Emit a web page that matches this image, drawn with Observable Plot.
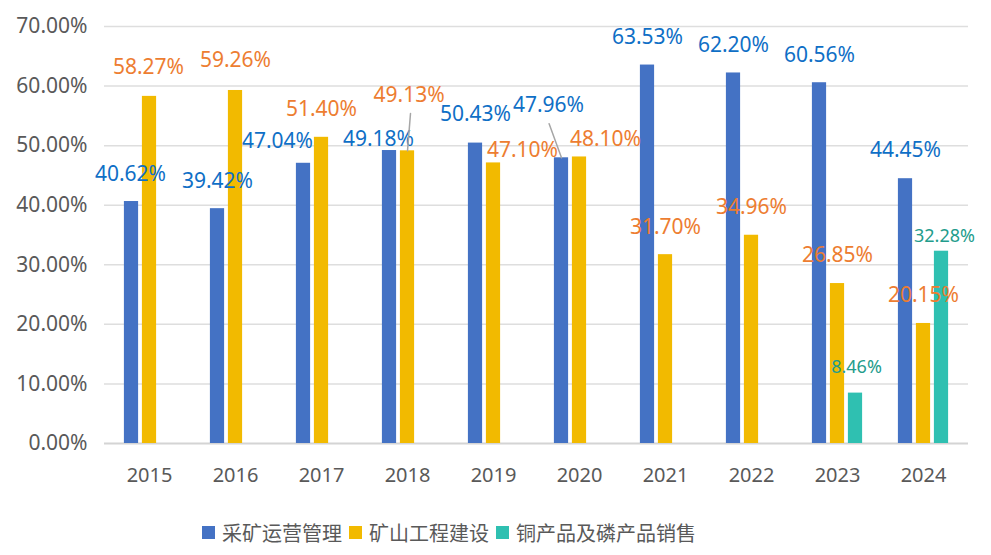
<!DOCTYPE html>
<html><head><meta charset="utf-8">
<script src="https://cdn.jsdelivr.net/npm/d3@7"></script>
<script src="https://cdn.jsdelivr.net/npm/@observablehq/plot@0.6"></script>
<style>
body{margin:0;background:#fff;}
#wrap{position:relative;width:991px;height:555px;overflow:hidden;}
#legend{position:absolute;left:202px;top:518px;display:flex;align-items:center;font-family:"Noto Sans CJK SC",sans-serif;font-size:20px;color:#595959;white-space:nowrap;}
.item{display:flex;align-items:center;margin-right:7px}
.sw{width:13px;height:13px;margin-right:7px}
</style></head><body><div id="wrap"><div id="chart"></div><div id="legend"></div></div>
<script>
const years = ["2015","2016","2017","2018","2019","2020","2021","2022","2023","2024"];
const seriesNames = ["采矿运营管理","矿山工程建设","铜产品及磷产品销售"];
const mining = [40.62,39.42,47.04,49.18,50.43,47.96,63.53,62.20,60.56,44.45];
const construction = [58.27,59.26,51.40,49.13,47.10,48.10,31.70,34.96,26.85,20.15];
const sales = [null,null,null,null,null,null,null,null,8.46,32.28];
const yTicks = [0,10,20,30,40,50,60,70];

// styling / layout (not data)
const barColors = ["#4472C4","#F2BA00","#2FC0B1"];
const labelColors = ["#0F6FC6","#ED7D31","#239C8C"];
const labelSizes = [21,21,18];
const seriesOffset = [-18,0,18];
// per-label nudge: [dx, pixels of baseline above bar top]
const nudges = [
  [[-1,21],[0,21],[-26,15],[-11,5],[0,22],[-13,45.5],[0,21],[0,21],[0,21],[0,22]],
  [[-1,22],[0,23],[0,21.5],[1.6,48.5],[29,5.6],[26,11],[0,21],[0,21],[0,21.4],[0,21.4]],
  [null,null,null,null,null,null,null,null,[1,20],[3,9]]
];
// leader lines: series index, year, length, rotate
const leaders = [
  {s:1, year:"2018", length:37.4, rotate:4.6},
  {s:0, year:"2020", length:36.2, rotate:-20}
];

const seriesValues = [mining, construction, sales];
const rows = [];
seriesValues.forEach((vals, s) => vals.forEach((v, i) => {
  if (v != null) rows.push({year: years[i], value: v, s, i});
}));

const marks = [];
marks.push(Plot.ruleY(yTicks.filter(t => t > 0), {stroke:"#dedede", strokeWidth:1.5}));
marks.push(Plot.ruleY([0], {stroke:"#d4d4d4", strokeWidth:2}));
for (let s = 0; s < 3; s++) {
  marks.push(Plot.barY(rows.filter(r => r.s === s), {
    x:"year", y:"value", fill: barColors[s], dx: seriesOffset[s],
    insetLeft: 35.9, insetRight: 35.9
  }));
}
for (const r of rows) {
  const n = nudges[r.s][r.i];
  marks.push(Plot.text([r], {
    x:"year", y:"value", text: d => d.value.toFixed(2) + "%",
    fill: labelColors[r.s], fontSize: labelSizes[r.s], lineAnchor:"bottom",
    dx: seriesOffset[r.s] + n[0], dy: -n[1]
  }));
}
for (const L of leaders) {
  const r = rows.find(d => d.s === L.s && d.year === L.year);
  marks.push(Plot.vector([r], {
    x:"year", y:"value", dx: seriesOffset[L.s], length: L.length, rotate: L.rotate,
    anchor:"start", shape:"arrow", r:0, stroke:"#a6a6a6", strokeWidth:1.5
  }));
}
marks.push(Plot.axisY({ticks: yTicks, tickSize:0, tickPadding:17, tickFormat: d => d.toFixed(2) + "%", fontSize:21, label:null}));
marks.push(Plot.axisX({tickSize:0, tickPadding:24, fontSize:20, label:null}));

const chart = Plot.plot({
  width: 991, height: 505,
  marginLeft: 104, marginRight: 23, marginTop: 26, marginBottom: 62,
  x: {type:"band", domain: years, padding: 0},
  y: {domain:[0,70]},
  style: {fontFamily:"'Noto Sans', sans-serif", fontSize:"21px", color:"#595959", background:"white"},
  marks
});
document.getElementById("chart").appendChild(chart);

const legend = document.getElementById("legend");
seriesNames.forEach((name, s) => {
  const it = document.createElement("div"); it.className = "item";
  const sw = document.createElement("div"); sw.className = "sw"; sw.style.background = barColors[s];
  const tx = document.createElement("span"); tx.textContent = name;
  it.appendChild(sw); it.appendChild(tx); legend.appendChild(it);
});
</script></body></html>
